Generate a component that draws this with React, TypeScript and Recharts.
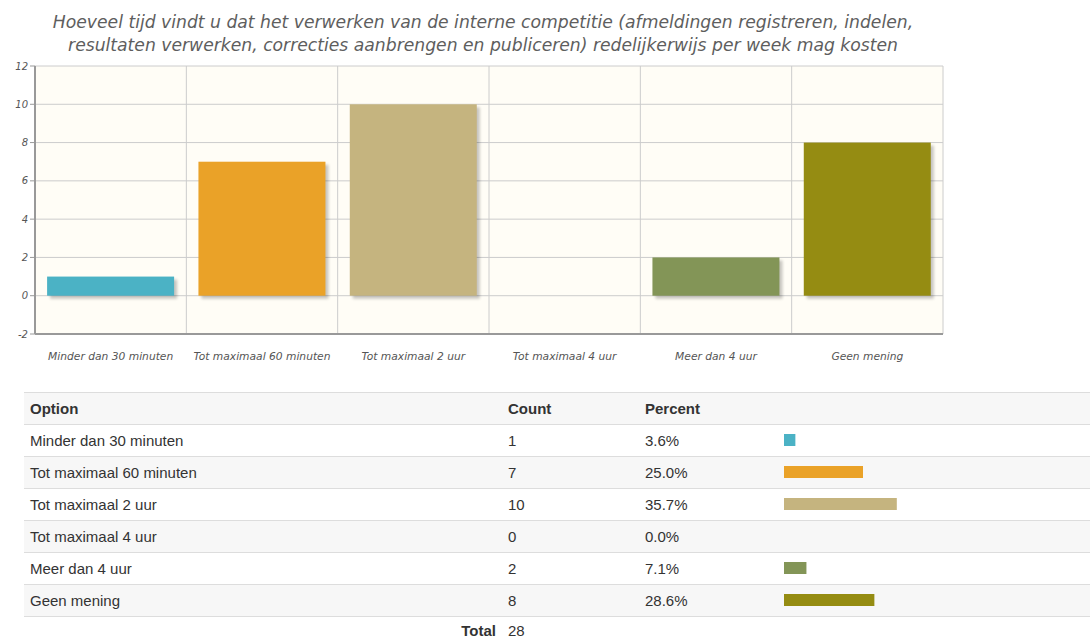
import { Bar, BarChart, XAxis, YAxis, CartesianGrid, Cell } from "recharts"

const options = [
  "Minder dan 30 minuten",
  "Tot maximaal 60 minuten",
  "Tot maximaal 2 uur",
  "Tot maximaal 4 uur",
  "Meer dan 4 uur",
  "Geen mening",
]
const counts = [1, 7, 10, 0, 2, 8]
const percents = [3.6, 25.0, 35.7, 0.0, 7.1, 28.6]
const colors = ["#4bb2c5", "#eaa228", "#c5b47f", "#579575", "#839557", "#958c12"]
const yTicks = [-2, 0, 2, 4, 6, 8, 10, 12]
const total = 28

const chartData = options.map((option, i) => ({ option, count: counts[i], slot: i + 0.5 }))
const tableBars = options.map((option, i) => ({ option, percent: percents[i] }))

const titleLines = [
  "Hoeveel tijd vindt u dat het verwerken van de interne competitie (afmeldingen registreren, indelen,",
  "resultaten verwerken, correcties aanbrengen en publiceren) redelijkerwijs per week mag kosten",
]

const xTickFont = { fontFamily: "DejaVu Sans", fontStyle: "italic", fontSize: 10.7, fill: "#555" }
const yTickFont = { fontFamily: "DejaVu Sans", fontStyle: "italic", fontSize: 10, fill: "#555" }

function ShadowBar(props: any) {
  const { x, y, width, height, fill } = props
  if (!height || height <= 0) return null
  return (
    <g>
      <rect x={x + 3} y={y + 3} width={width} height={height} fill="#000" opacity={0.22} filter="url(#barBlur)" />
      <rect x={x} y={y} width={width} height={height} fill={fill} />
    </g>
  )
}

function SurveyChart() {
  return (
    <BarChart width={960} height={372} data={chartData} margin={{ top: 66, right: 17, bottom: 8, left: 5 }} barCategoryGap="8%">
      <defs>
        <filter id="barBlur" x="-10%" y="-10%" width="130%" height="130%">
          <feGaussianBlur stdDeviation="1.5" />
        </filter>
      </defs>
      <CartesianGrid xAxisId="grid" stroke="#cccccc" fill="#fffdf6" />
      <XAxis xAxisId="grid" type="number" dataKey="slot" domain={[0, options.length]} ticks={[0, 1, 2, 3, 4, 5, 6]} hide />
      <XAxis
        dataKey="option"
        interval={0}
        tick={xTickFont}
        tickLine={false}
        tickSize={6}
        tickMargin={12}
        height={30}
        axisLine={{ stroke: "#999", strokeWidth: 2 }}
      />
      <XAxis xAxisId="top" orientation="top" dataKey="option" height={0} tick={false} tickLine={false} axisLine={{ stroke: "#999", strokeWidth: 2 }} />
      <YAxis
        domain={[-2, 12]}
        ticks={yTicks}
        tick={yTickFont}
        tickSize={5}
        width={30}
        axisLine={{ stroke: "#999", strokeWidth: 2 }}
        tickLine={{ stroke: "#999" }}
      />
      <YAxis yAxisId="right" orientation="right" domain={[-2, 12]} width={0} tick={false} tickLine={false} axisLine={{ stroke: "#999", strokeWidth: 2 }} />
      <Bar dataKey="count" isAnimationActive={false} shape={<ShadowBar />}>
        {chartData.map((d, i) => (
          <Cell key={d.option} fill={colors[i]} />
        ))}
      </Bar>
    </BarChart>
  )
}

const cellText = { fontFamily: "Liberation Sans, Arial, sans-serif", fontSize: 15, color: "#333" }

function Row({ top, bg, height = 32, children }: { top: number; bg: string; height?: number; children: any }) {
  return (
    <div
      style={{
        position: "absolute",
        left: 24,
        top,
        width: 1066,
        height,
        boxSizing: "border-box",
        borderTop: "1px solid #dddddd",
        background: bg,
        display: "flex",
        alignItems: "center",
        ...cellText,
      }}
    >
      {children}
    </div>
  )
}

function PercentBars() {
  return (
    <BarChart layout="vertical" width={316} height={192} data={tableBars} margin={{ top: 0, right: 0, bottom: 0, left: 0 }}>
      <XAxis type="number" domain={[0, 100]} hide />
      <YAxis type="category" dataKey="option" hide />
      <Bar dataKey="percent" barSize={12} isAnimationActive={false}>
        {tableBars.map((d, i) => (
          <Cell key={d.option} fill={colors[i]} />
        ))}
      </Bar>
    </BarChart>
  )
}

export default function App() {
  return (
    <div style={{ position: "absolute", left: 0, top: 0, width: 1090, height: 639, overflow: "hidden", background: "#fff" }}>
      <div
        style={{
          position: "absolute",
          left: 0,
          top: 11,
          width: 966,
          textAlign: "center",
          fontFamily: "DejaVu Sans",
          fontStyle: "italic",
          fontSize: 17.2,
          lineHeight: "23px",
          color: "#5e5e5e",
        }}
      >
        {titleLines.map((l) => (
          <div key={l}>{l}</div>
        ))}
      </div>
      <div style={{ position: "absolute", left: 0, top: 0 }}>
        <SurveyChart />
      </div>

      <Row top={392} bg="#f7f7f7">
        <div style={{ position: "absolute", left: 6, fontWeight: "bold" }}>Option</div>
        <div style={{ position: "absolute", left: 484, fontWeight: "bold" }}>Count</div>
        <div style={{ position: "absolute", left: 621, fontWeight: "bold" }}>Percent</div>
      </Row>
      {options.map((o, i) => (
        <Row key={o} top={424 + i * 32} bg={i % 2 === 1 ? "#f7f7f7" : "#ffffff"}>
          <div style={{ position: "absolute", left: 6 }}>{o}</div>
          <div style={{ position: "absolute", left: 484 }}>{counts[i]}</div>
          <div style={{ position: "absolute", left: 621 }}>{percents[i].toFixed(1)}%</div>
        </Row>
      ))}
      <Row top={616} bg="#ffffff" height={23}>
        <div style={{ position: "absolute", top: 5, lineHeight: "17px", right: 1066 - 472, fontWeight: "bold" }}>Total</div>
        <div style={{ position: "absolute", top: 5, lineHeight: "17px", left: 484 }}>{total}</div>
      </Row>
      <div style={{ position: "absolute", left: 784, top: 424 }}>
        <PercentBars />
      </div>
    </div>
  )
}
